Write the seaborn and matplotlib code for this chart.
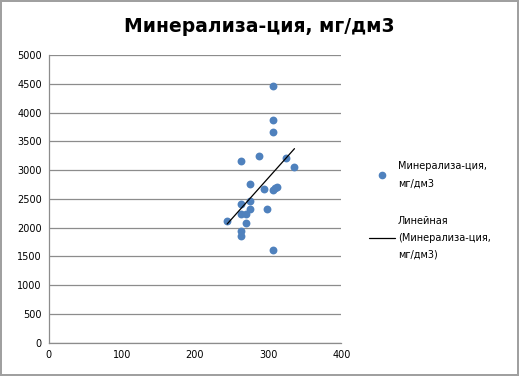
import numpy as np
import pandas as pd
import matplotlib
matplotlib.use("Agg")
import matplotlib.pyplot as plt
import seaborn as sns
from matplotlib.lines import Line2D

# значения
x_vals = [306, 306, 306, 263, 287, 324, 336, 275, 294, 306, 309, 312,
          275, 263, 275, 263, 270, 299, 244, 270, 263, 263, 306]
y_vals = [4460, 3867, 3670, 3153, 3251, 3217, 3048, 2764, 2665, 2659, 2688, 2717,
          2473, 2404, 2334, 2230, 2230, 2317, 2119, 2090, 1951, 1864, 1614]
x_ticks = [0, 100, 200, 300, 400]
y_ticks = [0, 500, 1000, 1500, 2000, 2500, 3000, 3500, 4000, 4500, 5000]
title = "Минерализа-ция, мг/дм3"
series_label = "Минерализа-ция,\nмг/дм3"
trend_label = "Линейная\n(Минерализа-ция,\nмг/дм3)"

df = pd.DataFrame({"x": x_vals, "y": y_vals})

sns.set_style("white")
plt.rcParams["font.family"] = ["DejaVu Sans"]
plt.rcParams["text.color"] = "black"

fig = plt.figure(figsize=(5.19, 3.76), dpi=100)
fig.patch.set_edgecolor("#a0a0a0")
fig.patch.set_linewidth(1.5)
ax = fig.add_axes([0.0938, 0.0886, 0.5638, 0.7644])

sns.scatterplot(data=df, x="x", y="y", ax=ax, color="#4f81bd", s=32,
                edgecolor="#4f81bd", linewidth=0, zorder=3, legend=False)
sns.regplot(data=df, x="x", y="y", ax=ax, scatter=False, ci=None,
            truncate=True, line_kws={"color": "black", "lw": 0.9, "zorder": 4})

ax.set_xlim(0, 400)
ax.set_ylim(0, 5000)
ax.set_xticks(x_ticks)
ax.set_yticks(y_ticks)
ax.set_xlabel("")
ax.set_ylabel("")
ax.yaxis.grid(True, color="#8c8c8c", lw=0.9)
ax.set_axisbelow(True)
for side in ["top", "right"]:
    ax.spines[side].set_visible(False)
for side in ["left", "bottom"]:
    ax.spines[side].set_color("#8c8c8c")
    ax.spines[side].set_linewidth(0.9)
ax.tick_params(axis="both", direction="inout", length=4, width=0.8,
               color="#8c8c8c", labelsize=7, labelcolor="black", pad=3)

fig.text(0.5, 0.93, title, ha="center", va="center", fontsize=13.5,
         fontweight="bold", color="black")

handles = [
    Line2D([], [], marker="o", ls="", color="#4f81bd", markersize=4.5),
    Line2D([], [], color="black", lw=0.9),
]
leg = fig.legend(handles, [series_label, trend_label], loc="center left",
                 bbox_to_anchor=(0.695, 0.44), frameon=False, fontsize=7,
                 labelspacing=2.8, handlelength=2.6, handletextpad=0.3)
for t in leg.get_texts():
    t.set_linespacing(1.9)

fig.savefig("out.png", dpi=100)
